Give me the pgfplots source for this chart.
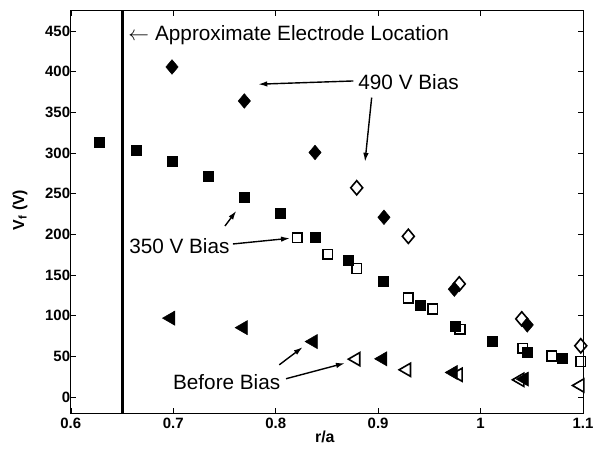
\documentclass[border=0pt]{standalone}
\usepackage{fontspec}
\setmainfont{Liberation Sans}
\usepackage{pgfplots}
\pgfplotsset{compat=1.18}
\usetikzlibrary{arrows.meta}

\begin{document}
\begin{tikzpicture}
\begin{axis}[name=ax, scale only axis, width=512.2bp, height=402.6bp,
 xmin=0.6, xmax=1.1, ymin=-20, ymax=475,
 xtick={0.6,0.7,0.8,0.9,1,1.1}, xticklabels={0.6,0.7,0.8,0.9,1,1.1},
 ytick={0,50,...,450},
 tick align=inside, xtick pos=both, ytick pos=both,
 major tick length=5bp,
 tick style={black, line width=0.6bp},
 axis line style={line width=0.8bp},
 ticklabel style={font=\fontsize{15}{15}\selectfont\bfseries},
 /pgf/number format/assume math mode=true,
 yticklabel style={inner sep=0.5bp},
 xticklabel style={inner sep=2bp, yshift=-3bp},
 xlabel={r/a}, ylabel={V\textsubscript{f} (V)},
 label style={font=\fontsize{16}{16}\selectfont\bfseries},
 xlabel style={at={(axis description cs:0.496,0)}, anchor=center, yshift=-23.7bp},
 ylabel style={at={(axis description cs:-0.0992,0.505)}, anchor=center},
 clip=false,
]
% electrode location
\addplot[black, line width=3bp, no marks] coordinates {(0.65,-20) (0.65,475)};

% open diamonds (490 V)
\addplot[only marks, black, mark=diamond, mark size=7.1bp, mark options={xscale=1.12, line width=1.6bp}]
 coordinates {(0.8791,257.3) (0.9295,197.6) (0.9792,139.1) (1.0402,96.1) (1.0978,63)};
% filled diamonds (490 V)
\addplot[only marks, black, mark=diamond*, mark size=7.3bp, mark options={xscale=1.12, line width=0.5bp}]
 coordinates {(0.6988,405.8) (0.7694,364) (0.8384,300.7) (0.9057,221) (0.9744,132.6) (1.0456,88.7)};

% open squares (350 V)
\addplot[only marks, black, mark=square, mark size=4.9bp, mark options={line width=1.6bp}]
 coordinates {(0.8211,196) (0.8508,175.5) (0.8791,158) (0.9295,122) (0.9533,108) (0.9799,83.4) (1.0411,60) (1.0694,50.7) (1.0978,43.7)};
% filled squares (350 V)
\addplot[only marks, black, mark=square*, mark size=5bp, mark options={line width=0.5bp}]
 coordinates {(0.6278,313) (0.6636,303) (0.6988,290) (0.7342,272) (0.7694,246) (0.8042,226) (0.8384,197) (0.8709,168.5) (0.9051,142) (0.9409,113) (0.9750,87.5) (1.0118,68) (1.0460,55) (1.0802,48)};

% open triangles (before bias)
\addplot[only marks, black, mark=triangle, mark size=7.6bp, mark options={rotate=90, line width=1.6bp}]
 coordinates {(0.8784,46.6) (0.9279,33.5) (0.9783,27.4) (1.0385,21.2) (1.0971,14.2)};
% filled triangles (before bias)
\addplot[only marks, black, mark=triangle*, mark size=8.2bp, mark options={rotate=90, line width=0.5bp}]
 coordinates {(0.6975,97) (0.7684,85.3) (0.8367,68.2) (0.9045,47) (0.9734,30.2) (1.0427,22.1)};

% annotations
\node[anchor=west, inner sep=0, font=\fontsize{20.8}{20.8}\selectfont] at (axis cs:0.6559,444.7) {\raisebox{0.5bp}{$\leftarrow$}\hspace{0.3em}Approximate Electrode Location};
\node[anchor=west, inner sep=0, font=\fontsize{20.8}{20.8}\selectfont] at (axis cs:0.8806,387) {490 V Bias};
\node[anchor=west, inner sep=0, font=\fontsize{20.8}{20.8}\selectfont] at (axis cs:0.6569,185.7) {350 V Bias};
\node[anchor=west, inner sep=0, font=\fontsize{20.8}{20.8}\selectfont] at (axis cs:0.6997,18.4) {Before Bias};

\draw[line width=1.4bp, -{Latex[length=9bp,width=5.5bp]}] (axis cs:0.8758,388.6) -- (axis cs:0.7830,384.6);
\draw[line width=1.4bp, -{Latex[length=9bp,width=5.5bp]}] (axis cs:0.8937,368.2) -- (axis cs:0.8872,289.2);
\draw[line width=1.4bp, -{Latex[length=9bp,width=5.5bp]}] (axis cs:0.7583,188.2) -- (axis cs:0.8140,195.2);
\draw[line width=1.4bp, -{Latex[length=9bp,width=5.5bp]}] (axis cs:0.7505,210.3) -- (axis cs:0.7616,229.0);
\draw[line width=1.4bp, -{Latex[length=9bp,width=5.5bp]}] (axis cs:0.8035,39.6) -- (axis cs:0.8264,61.4);
\draw[line width=1.4bp, -{Latex[length=9bp,width=5.5bp]}] (axis cs:0.8101,22.5) -- (axis cs:0.8676,41.7);
\end{axis}
\pgfresetboundingbox
\path ([xshift=-70.8bp,yshift=-37.7bp]ax.south west) rectangle ([xshift=10bp,yshift=10.7bp]ax.north east);
\end{tikzpicture}
\end{document}
